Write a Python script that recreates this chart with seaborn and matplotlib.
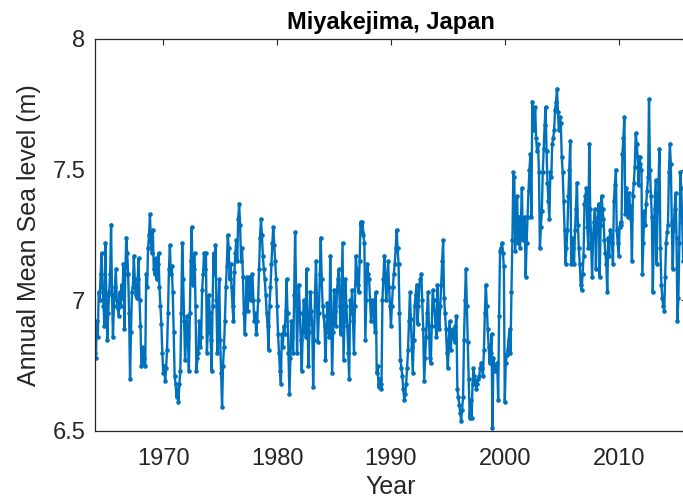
import numpy as np
import pandas as pd
import seaborn as sns
import matplotlib.pyplot as plt

# monthly mean sea level (m), Miyakejima, Jan 1964 onward
sl_1960s = [
    6.80, 6.78, 6.92, 6.86, 7.03, 7.00, 7.10, 7.18, 7.05, 6.98, 6.90, 7.22,  # 1964
    7.02, 6.85, 6.95, 7.03, 7.10, 7.29, 7.02, 6.86, 6.98, 7.05, 7.12, 7.00,  # 1965
    6.97, 6.94, 7.03, 6.98, 7.06, 7.01, 7.14, 6.89, 7.10, 7.24, 7.18, 7.10,  # 1966
    6.95, 6.70, 6.88, 7.03, 7.05, 7.17, 7.08, 7.02, 7.01, 7.08, 7.16, 7.00,  # 1967
    6.90, 6.75, 6.76, 6.82, 6.78, 6.75, 7.10, 7.05, 7.20, 7.25, 7.33, 7.22,  # 1968
    7.18, 7.27, 7.12, 7.10, 7.16, 7.08, 7.14, 7.18, 7.05, 6.98, 6.91, 6.80,  # 1969
]
sl_1970s = [
    6.72, 6.75, 6.69, 6.74, 6.81, 6.95, 7.12, 7.21, 7.10, 7.13, 7.03, 6.88,
    6.71, 6.68, 6.63, 6.66, 6.61, 6.68, 6.73, 6.95, 7.22, 7.08, 6.92, 6.77,
    6.85, 6.94, 6.86, 6.73, 6.95, 7.15, 7.28, 7.06, 7.12, 7.18, 6.98, 6.73,
    6.78, 6.80, 6.92, 6.82, 6.86, 7.04, 7.10, 7.18, 7.12, 7.18, 6.80, 6.88,
    7.02, 6.95, 6.85, 6.73, 6.98, 7.18, 7.10, 7.21, 7.00, 6.80, 6.95, 7.08,
    6.85, 6.72, 6.59, 6.75, 6.82, 6.92, 7.05, 7.13, 7.25, 7.20, 7.08, 7.14,
    7.05, 6.98, 6.92, 7.11, 7.18, 7.23, 7.15, 7.31, 7.37, 7.29, 7.15, 7.20,
    7.09, 6.95, 6.87, 6.98, 7.09, 6.96, 7.02, 7.09, 7.00, 7.05, 7.10, 7.00,
    6.92, 6.95, 6.87, 6.92, 7.00, 7.12, 7.24, 7.31, 7.25, 7.17, 7.12, 7.08,
    7.02, 6.95, 6.90, 6.81, 6.98, 7.05, 7.14, 7.22, 7.28, 7.21, 7.15, 7.08,
]
sl_1980s = [
    6.98, 6.87, 6.80, 6.73, 6.68, 6.87, 6.82, 6.90, 6.87, 6.96, 7.08, 6.95,
    6.80, 6.64, 6.78, 6.92, 6.86, 6.80, 7.02, 7.26, 7.05, 6.80, 6.95, 7.06,
    6.95, 6.85, 6.73, 6.88, 7.00, 6.93, 6.86, 7.12, 6.95, 6.75, 6.88, 7.03,
    6.96, 6.91, 6.67, 6.85, 7.03, 7.15, 7.00, 6.84, 6.95, 7.10, 7.24, 7.08,
    6.98, 6.94, 6.90, 6.77, 6.88, 6.99, 6.93, 6.86, 7.17, 6.95, 6.72, 6.88,
    7.04, 6.96, 6.90, 7.03, 7.08, 7.12, 6.98, 6.87, 7.05, 7.22, 6.77, 6.92,
    7.08, 6.98, 6.90, 6.80, 6.70, 7.00, 6.95, 7.04, 6.92, 6.80, 6.98, 7.17,
    7.12, 7.06, 7.03, 7.15, 7.30, 7.26, 7.30, 7.25, 7.22, 6.85, 7.00, 7.14,
    7.10, 7.08, 7.00, 6.92, 6.97, 7.00, 6.94, 6.88, 7.03, 6.72, 6.75, 6.67,
    6.70, 6.68, 6.66, 7.00, 7.08, 7.17, 7.10, 7.00, 7.06, 7.15, 7.05, 6.98,
]
sl_1990s = [
    6.90, 6.98, 7.05, 7.10, 7.14, 7.20, 7.27, 7.20, 7.14, 6.95, 6.77, 6.74,
    6.71, 6.66, 6.62, 6.64, 6.68, 6.74, 6.81, 6.92, 7.03, 6.93, 6.82, 6.72,
    6.85, 6.98, 7.02, 7.06, 6.91, 6.98, 7.06, 7.08, 7.10, 7.00, 6.89, 6.69,
    6.78, 6.86, 6.95, 7.03, 6.90, 6.78, 6.76, 6.90, 7.04, 7.00, 6.96, 6.90,
    6.86, 7.06, 6.95, 6.89, 6.98, 7.06, 7.15, 7.23, 7.01, 6.95, 6.89, 6.80,
    6.74, 6.85, 6.92, 6.81, 6.86, 6.89, 6.88, 6.84, 6.90, 6.94, 6.66, 6.63,
    6.60, 6.57, 6.54, 6.58, 6.63, 6.85, 7.00, 7.12, 6.98, 6.84, 6.70, 6.55,
    6.62, 6.55, 6.68, 6.74, 6.71, 6.69, 6.66, 6.68, 6.70, 6.71, 6.74, 6.76,
    6.74, 6.71, 6.81, 6.95, 7.06, 6.98, 6.89, 6.82, 6.76, 6.80, 6.87, 6.51,
    6.78, 6.75, 6.73, 6.75, 6.76, 6.62, 6.94, 7.19, 7.20, 7.22, 7.18, 7.13,
]
sl_2000s = [
    6.61, 6.76, 6.79, 6.81, 6.85, 6.89, 6.80, 7.03, 7.23, 7.49, 7.47, 7.19,
    7.30, 7.40, 7.22, 7.32, 7.20, 7.30, 7.43, 7.23, 7.28, 7.32, 7.09, 7.22,
    7.32, 7.42, 7.50, 7.56, 7.32, 7.76, 7.70, 7.65, 7.74, 7.62, 7.57, 7.60,
    7.49, 7.20, 7.28, 7.34, 7.49, 7.58, 7.67, 7.74, 7.57, 7.45, 7.38, 7.31,
    7.49, 7.47, 7.60, 7.62, 7.65, 7.73, 7.76, 7.81, 7.72, 7.65, 7.70, 7.68,
    7.55, 7.49, 7.38, 7.27, 7.14, 7.20, 7.27, 7.40, 7.50, 7.61, 7.14, 7.24,
    7.20, 7.14, 7.27, 7.35, 7.45, 7.29, 7.20, 7.14, 7.06, 7.04, 7.10, 7.17,
    7.37, 7.40, 7.43, 7.28, 7.20, 7.60, 7.35, 7.22, 7.09, 7.24, 7.30, 7.35,
    7.12, 7.27, 7.32, 7.37, 7.09, 7.29, 7.40, 7.35, 7.31, 7.23, 7.18, 7.14,
    7.03, 7.24, 7.17, 7.27, 7.25, 7.22, 7.14, 7.38, 7.44, 7.50, 7.27, 7.22,
]
sl_2010s = [
    7.17, 7.28, 7.30, 7.29, 7.56, 7.62, 7.70, 7.33, 7.43, 7.38, 7.32, 7.41,
    7.36, 7.31, 7.15, 7.40, 7.45, 7.51, 7.64, 7.60, 7.55, 7.44, 7.55, 7.52,
    7.50, 7.10, 7.22, 7.34, 7.29, 7.37, 7.42, 7.47, 7.77, 7.50, 7.40, 7.32,
    7.03, 7.24, 7.35, 7.46, 7.14, 7.34, 7.45, 7.58, 7.20, 7.06, 7.01, 6.98,
    6.96, 7.09, 7.22, 7.26, 7.29, 7.49, 7.60, 7.52, 7.30, 7.12, 7.27, 7.35,
    7.41, 7.24, 6.92, 7.01, 7.22, 7.49, 7.43, 7.30, 7.15, 7.25, 7.38, 7.20,
]
first_year = 1964

sea_level = sl_1960s + sl_1970s + sl_1980s + sl_1990s + sl_2000s + sl_2010s
df = pd.DataFrame({'level': sea_level})
df['year'] = first_year + np.arange(len(df)) / 12

sns.set_style('white')
plt.rcParams['font.family'] = ['Liberation Sans', 'DejaVu Sans']

dark = '#262626'
fig = plt.figure(figsize=(6.83, 4.99), dpi=100)
# right edge of the axes lies just past the picture, like the cropped original
ax = fig.add_axes([0.139, 0.1363, 0.8668, 0.7856])

sns.lineplot(data=df, x='year', y='level', ax=ax, color='#0072BD',
             linewidth=1.7, marker='o', markersize=3.3, markeredgewidth=0,
             sort=False)

ax.set_xlim(1964, 2016)
ax.set_ylim(6.5, 8)
ax.set_xticks([1970, 1980, 1990, 2000, 2010])
ax.set_yticks([6.5, 7, 7.5, 8])
ax.set_yticklabels(['6.5', '7', '7.5', '8'])
ax.tick_params(direction='in', top=True, right=True, length=4, width=0.8,
               colors=dark, labelsize=17)
ax.tick_params(axis='x', pad=12)
ax.tick_params(axis='y', pad=7)
for s in ax.spines.values():
    s.set_color(dark)
    s.set_linewidth(0.9)

ax.set_xlabel('Year', fontsize=18, color=dark, labelpad=4)
ax.set_ylabel('Annual Mean Sea level (m)', fontsize=18, color=dark, labelpad=8)
ax.set_title('Miyakejima, Japan', fontsize=17, fontweight='bold', color='black', pad=7)

fig.savefig('out.png', dpi=100)
